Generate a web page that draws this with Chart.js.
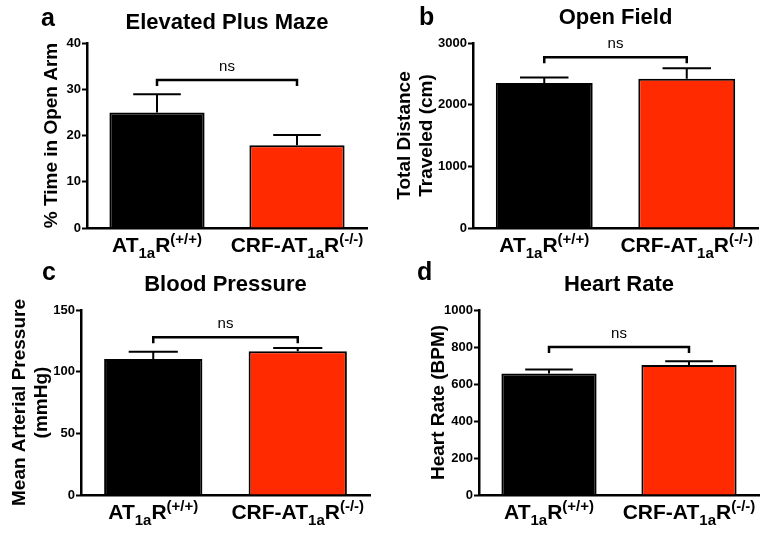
<!DOCTYPE html>
<html>
<head>
<meta charset="utf-8">
<script src="https://cdn.jsdelivr.net/npm/chart.js@4.4.1/dist/chart.umd.min.js"></script>
<style>
  body { margin: 0; background: #fff; width: 764px; height: 534px; position: relative; overflow: hidden; }
  .panel { position: absolute; width: 382px; height: 267px; }
  .letter { position: absolute; font: bold 25px/25px "Liberation Sans", Arial, sans-serif; color: #000; }
</style>
</head>
<body>
<div class="panel" style="left:0;top:0"><canvas id="epm" width="382" height="267"></canvas></div>
<div class="panel" style="left:382px;top:0"><canvas id="of" width="382" height="267"></canvas></div>
<div class="panel" style="left:0;top:267px"><canvas id="bp" width="382" height="267"></canvas></div>
<div class="panel" style="left:382px;top:267px"><canvas id="hr" width="382" height="267"></canvas></div>
<div class="letter" style="left:41px;top:5px">a</div>
<div class="letter" style="left:419px;top:4px">b</div>
<div class="letter" style="left:42px;top:259px">c</div>
<div class="letter" style="left:417px;top:259px">d</div>
<script>
const FONT = '"Liberation Sans", Arial, Helvetica, sans-serif';

// groups, with the pieces used to draw sub/superscripts: [text, 0 = normal, 1 = sub, -1 = sup]
const groups = ['AT1aR(+/+)', 'CRF-AT1aR(-/-)'];
const groupPieces = [
  [['AT', 0], ['1a', 1], ['R', 0], ['(+/+)', -1]],
  [['CRF-AT', 0], ['1a', 1], ['R', 0], ['(-/-)', -1]],
];
const barColors = ['#000000', '#ff2a00'];

// a: elevated plus maze
const epmMean = [25.0, 17.9];
const epmSem = [3.9, 2.2];
const epmAxis = [0, 40, 10];   // min, max, step
const epmBracket = 32;

// b: open field
const ofMean = [2350, 2420];
const ofSem = [90, 170];
const ofAxis = [0, 3000, 1000];
const ofBracket = 2770;

// c: blood pressure
const bpMean = [110.3, 116.5];
const bpSem = [5.8, 2.6];
const bpAxis = [0, 150, 50];
const bpBracket = 128;

// d: heart rate
const hrMean = [657, 703];
const hrSem = [22, 20];
const hrAxis = [0, 1000, 200];
const hrBracket = 800;

const errorBars = {
  id: 'errorBars',
  afterDatasetsDraw(chart, args, opts) {
    const { ctx } = chart;
    const y = chart.scales.y;
    const data = chart.data.datasets[0].data;
    ctx.save();
    ctx.strokeStyle = '#000';
    ctx.lineWidth = 2;
    chart.getDatasetMeta(0).data.forEach((bar, i) => {
      const top = y.getPixelForValue(data[i] + opts.sem[i]);
      const half = bar.width / 4;
      ctx.beginPath();
      ctx.moveTo(bar.x, bar.y);
      ctx.lineTo(bar.x, top);
      ctx.moveTo(bar.x - half, top);
      ctx.lineTo(bar.x + half, top);
      ctx.stroke();
    });
    ctx.restore();
  },
};

const bracket = {
  id: 'bracket',
  afterDatasetsDraw(chart, args, opts) {
    const { ctx } = chart;
    const bars = chart.getDatasetMeta(0).data;
    const y = chart.scales.y.getPixelForValue(opts.value);
    const x1 = bars[0].x, x2 = bars[1].x;
    ctx.save();
    ctx.strokeStyle = '#000';
    ctx.lineWidth = 2.5;
    ctx.beginPath();
    ctx.moveTo(x1, y + 6);
    ctx.lineTo(x1, y);
    ctx.lineTo(x2, y);
    ctx.lineTo(x2, y + 6);
    ctx.stroke();
    ctx.fillStyle = '#000';
    ctx.font = '15px ' + FONT;
    ctx.textAlign = 'center';
    ctx.textBaseline = 'alphabetic';
    ctx.fillText(opts.text, (x1 + x2) / 2, y - 9);
    ctx.restore();
  },
};

// category labels with subscript / superscript, placed on the x scale
const richLabels = {
  id: 'richLabels',
  afterDraw(chart) {
    const { ctx } = chart;
    const xs = chart.scales.x;
    const base = chart.chartArea.bottom + 24;
    ctx.save();
    ctx.fillStyle = '#000';
    ctx.textBaseline = 'alphabetic';
    ctx.textAlign = 'left';
    groupPieces.forEach((pieces, i) => {
      const fonts = pieces.map(p => 'bold ' + (p[1] === 0 ? 21 : 15) + 'px ' + FONT);
      const widths = pieces.map((p, k) => { ctx.font = fonts[k]; return ctx.measureText(p[0]).width; });
      let x = xs.getPixelForValue(i) - widths.reduce((a, b) => a + b, 0) / 2;
      pieces.forEach((p, k) => {
        ctx.font = fonts[k];
        const dy = p[1] === 1 ? 6 : p[1] === -1 ? -8 : 0;
        ctx.fillText(p[0], x, base + dy);
        x += widths[k];
      });
    });
    ctx.restore();
  },
};

function makePanel(id, o) {
  return new Chart(document.getElementById(id), {
    type: 'bar',
    data: {
      labels: groups,
      datasets: [{
        data: o.mean,
        backgroundColor: barColors,
        borderColor: '#000',
        borderWidth: 2,
        barPercentage: 0.68,
        categoryPercentage: 1,
      }],
    },
    options: {
      responsive: false,
      animation: false,
      layout: { padding: { left: 0, right: o.padRight, top: 0, bottom: 0 } },
      plugins: {
        legend: { display: false },
        tooltip: { enabled: false },
        title: {
          display: true,
          text: o.title,
          fullSize: false,
          color: '#000',
          font: { family: FONT, size: 22, weight: 'bold', lineHeight: 1.2 },
          padding: { top: o.titleTop, bottom: 43 - 26.4 - o.titleTop },
        },
        errorBars: { sem: o.sem },
        bracket: { value: o.bracket, text: 'ns' },
      },
      scales: {
        x: {
          grid: { display: false },
          border: { display: true, color: '#000', width: 2.5 },
          ticks: { display: false },
          afterFit: (s) => { s.height = 39; },
        },
        y: {
          min: o.axis[0],
          max: o.axis[1],
          ticks: {
            stepSize: o.axis[2],
            color: '#000',
            padding: 1,
            font: { family: FONT, size: 13, weight: 'bold' },
            callback: (v) => String(v),
          },
          grid: { display: true, drawOnChartArea: false, drawTicks: true, tickLength: 5, tickWidth: 2, tickColor: '#000' },
          border: { display: true, color: '#000', width: 2.5 },
          title: {
            display: true,
            text: o.yTitle,
            color: '#000',
            font: { family: FONT, size: 19, weight: 'bold', lineHeight: 1.15 },
            padding: { top: o.yTitlePad, bottom: 0 },
          },
          afterFit: (s) => { s.width = o.areaLeft; },
        },
      },
    },
    plugins: [errorBars, bracket, richLabels],
  });
}

makePanel('epm', {
  title: 'Elevated Plus Maze', yTitle: '% Time in Open Arm',
  mean: epmMean, sem: epmSem, axis: epmAxis, bracket: epmBracket,
  areaLeft: 87, padRight: 15, titleTop: 10, yTitlePad: 41,
});
makePanel('of', {
  title: 'Open Field', yTitle: ['Total Distance', 'Traveled (cm)'],
  mean: ofMean, sem: ofSem, axis: ofAxis, bracket: ofBracket,
  areaLeft: 91, padRight: 6, titleTop: 5, yTitlePad: 12,
});
makePanel('bp', {
  title: 'Blood Pressure', yTitle: ['Mean Arterial Pressure', '(mmHg)'],
  mean: bpMean, sem: bpSem, axis: bpAxis, bracket: bpBracket,
  areaLeft: 81, padRight: 12, titleTop: 5, yTitlePad: 9,
});
makePanel('hr', {
  title: 'Heart Rate', yTitle: 'Heart Rate (BPM)',
  mean: hrMean, sem: hrSem, axis: hrAxis, bracket: hrBracket,
  areaLeft: 97, padRight: 5, titleTop: 5, yTitlePad: 46,
});
</script>
</body>
</html>
